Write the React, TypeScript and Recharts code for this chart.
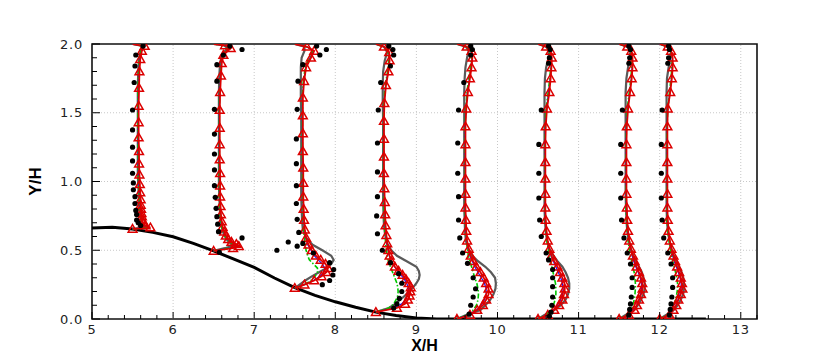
import React from 'react';
import { ScatterChart, Scatter, XAxis, YAxis, ReferenceLine, ReferenceArea } from 'recharts';

// ---- axes ----
const xMajorTicks = [5, 6, 7, 8, 9, 10, 11, 12, 13];
const xAllTicks = Array.from({ length: 42 }, (_, i) => +(5 + i * 0.2).toFixed(1)).filter((v) => v <= 13.2);
const yMajorTicks = [0, 0.5, 1, 1.5, 2];
const yAllTicks = Array.from({ length: 21 }, (_, i) => +(i * 0.1).toFixed(1));
const xGrid = [6, 7, 8, 9, 10, 11, 12, 13];
const yGrid = [0.5, 1, 1.5];

// ---- hill surface ----
const hillX = [5.0, 5.25, 5.5, 5.75, 6.0, 6.25, 6.5, 6.75, 7.0, 7.25, 7.5, 7.75, 8.0, 8.25, 8.5, 8.75, 9.0, 9.25, 9.5, 12.57];
const hillY = [0.662, 0.667, 0.655, 0.63, 0.598, 0.55, 0.495, 0.435, 0.375, 0.298, 0.228, 0.172, 0.125, 0.085, 0.05, 0.025, 0.008, 0.0, 0.0, 0.0];

// ---- station X/H = 5.5 ----
const y1 = [0.655, 0.665, 0.68, 0.7, 0.72, 0.745, 0.77, 0.8, 0.83, 0.87, 0.92, 0.98, 1.05, 1.13, 1.22, 1.32, 1.43, 1.55, 1.68, 1.8, 1.89, 1.95, 1.985, 2.0];
const red1 = [5.5, 5.72, 5.66, 5.63, 5.62, 5.615, 5.61, 5.605, 5.6, 5.6, 5.595, 5.59, 5.585, 5.58, 5.58, 5.575, 5.575, 5.575, 5.58, 5.585, 5.595, 5.615, 5.65, 5.5];
const blue1 = [5.5, 5.68, 5.64, 5.62, 5.61, 5.605, 5.6, 5.595, 5.59, 5.59, 5.585, 5.58, 5.575, 5.57, 5.57, 5.57, 5.57, 5.57, 5.575, 5.58, 5.59, 5.61, 5.64, 5.5];
const green1 = [5.5, 5.67, 5.635, 5.615, 5.605, 5.6, 5.595, 5.59, 5.585, 5.585, 5.58, 5.575, 5.57, 5.57, 5.57, 5.565, 5.565, 5.565, 5.57, 5.575, 5.585, 5.605, 5.635, 5.5];
const gray1 = [5.5, 5.66, 5.63, 5.61, 5.6, 5.595, 5.59, 5.585, 5.58, 5.58, 5.575, 5.57, 5.565, 5.565, 5.565, 5.565, 5.565, 5.565, 5.565, 5.57, 5.58, 5.6, 5.63, 5.5];
const exp1X = [5.63, 5.54, 5.53, 5.52, 5.5, 5.5, 5.5, 5.5, 5.5, 5.51, 5.51, 5.53, 5.53, 5.54, 5.55, 5.55, 5.57, 5.6];
const exp1Y = [1.985, 1.92, 1.84, 1.72, 1.52, 1.375, 1.25, 1.15, 1.06, 0.99, 0.94, 0.89, 0.84, 0.79, 0.76, 0.72, 0.7, 0.68];

// ---- station X/H = 6.5 ----
const y2 = [0.495, 0.515, 0.53, 0.545, 0.56, 0.58, 0.605, 0.635, 0.67, 0.71, 0.76, 0.82, 0.89, 0.97, 1.06, 1.16, 1.27, 1.39, 1.52, 1.65, 1.77, 1.86, 1.92, 1.97, 1.99, 2.0];
const red2 = [6.5, 6.74, 6.81, 6.78, 6.72, 6.68, 6.65, 6.63, 6.61, 6.6, 6.59, 6.585, 6.58, 6.58, 6.58, 6.575, 6.575, 6.575, 6.575, 6.58, 6.59, 6.6, 6.62, 6.71, 6.64, 6.5];
const blue2 = [6.5, 6.7, 6.77, 6.76, 6.71, 6.67, 6.645, 6.625, 6.605, 6.595, 6.585, 6.58, 6.575, 6.575, 6.575, 6.57, 6.57, 6.57, 6.57, 6.575, 6.585, 6.595, 6.615, 6.7, 6.64, 6.5];
const green2 = [6.5, 6.68, 6.75, 6.74, 6.7, 6.66, 6.64, 6.62, 6.6, 6.59, 6.58, 6.575, 6.57, 6.57, 6.57, 6.57, 6.57, 6.57, 6.57, 6.575, 6.585, 6.595, 6.615, 6.69, 6.63, 6.5];
const gray2 = [6.5, 6.64, 6.72, 6.72, 6.69, 6.66, 6.635, 6.615, 6.6, 6.59, 6.58, 6.575, 6.57, 6.565, 6.565, 6.565, 6.565, 6.565, 6.565, 6.565, 6.57, 6.58, 6.6, 6.67, 6.63, 6.5];
const exp2X = [6.7, 6.85, 6.62, 6.54, 6.54, 6.51, 6.51, 6.51, 6.51, 6.51, 6.52, 6.53, 6.54, 6.55, 6.56, 6.85, 6.57];
const exp2Y = [1.985, 1.96, 1.92, 1.85, 1.73, 1.525, 1.345, 1.2, 1.084, 0.97, 0.885, 0.805, 0.744, 0.69, 0.635, 0.59, 0.485];

// ---- station X/H = 7.5 ----
const y3 = [0.225, 0.25, 0.28, 0.31, 0.34, 0.37, 0.4, 0.43, 0.46, 0.5, 0.54, 0.59, 0.65, 0.72, 0.8, 0.89, 0.99, 1.1, 1.22, 1.35, 1.48, 1.61, 1.73, 1.83, 1.9, 1.95, 1.98, 2.0];
const red3 = [7.5, 7.62, 7.74, 7.83, 7.89, 7.91, 7.88, 7.82, 7.76, 7.71, 7.67, 7.64, 7.625, 7.615, 7.61, 7.605, 7.605, 7.605, 7.6, 7.6, 7.6, 7.6, 7.615, 7.64, 7.7, 7.74, 7.65, 7.5];
const blue3 = [7.5, 7.62, 7.73, 7.81, 7.86, 7.87, 7.84, 7.79, 7.74, 7.7, 7.66, 7.635, 7.62, 7.61, 7.605, 7.6, 7.6, 7.6, 7.595, 7.595, 7.595, 7.595, 7.61, 7.635, 7.69, 7.73, 7.65, 7.5];
const green3 = [7.5, 7.62, 7.7, 7.75, 7.78, 7.78, 7.73, 7.68, 7.66, 7.64, 7.63, 7.62, 7.61, 7.605, 7.6, 7.6, 7.6, 7.595, 7.595, 7.595, 7.595, 7.595, 7.605, 7.63, 7.68, 7.72, 7.65, 7.5];
const gray3 = [7.5, 7.56, 7.63, 7.71, 7.8, 7.89, 7.95, 7.98, 7.95, 7.84, 7.72, 7.64, 7.6, 7.59, 7.585, 7.58, 7.58, 7.58, 7.58, 7.58, 7.58, 7.575, 7.575, 7.575, 7.585, 7.62, 7.62, 7.5];
const exp3X = [7.77, 7.89, 7.81, 7.6, 7.54, 7.53, 7.52, 7.52, 7.52, 7.52, 7.53, 7.55, 7.42, 7.28, 7.53, 7.6, 7.73, 7.93, 7.98, 7.97, 7.93, 7.84];
const exp3Y = [1.985, 1.96, 1.92, 1.85, 1.73, 1.525, 1.31, 1.13, 0.97, 0.84, 0.725, 0.63, 0.56, 0.5, 0.53, 0.55, 0.48, 0.41, 0.36, 0.32, 0.28, 0.25];

// ---- station X/H = 8.5 ----
const y4 = [0.05, 0.08, 0.11, 0.14, 0.17, 0.2, 0.23, 0.26, 0.29, 0.32, 0.35, 0.38, 0.42, 0.46, 0.5, 0.55, 0.61, 0.68, 0.76, 0.85, 0.95, 1.06, 1.18, 1.31, 1.44, 1.57, 1.7, 1.8, 1.88, 1.94, 1.98, 2.0];
const red4 = [8.5, 8.76, 8.86, 8.895, 8.915, 8.925, 8.93, 8.905, 8.87, 8.83, 8.78, 8.735, 8.69, 8.67, 8.655, 8.64, 8.63, 8.62, 8.615, 8.61, 8.605, 8.6, 8.6, 8.6, 8.6, 8.605, 8.625, 8.655, 8.67, 8.665, 8.6, 8.5];
const blue4 = [8.5, 8.72, 8.82, 8.865, 8.89, 8.9, 8.9, 8.88, 8.85, 8.81, 8.77, 8.73, 8.69, 8.665, 8.65, 8.635, 8.625, 8.615, 8.61, 8.605, 8.6, 8.595, 8.595, 8.595, 8.595, 8.6, 8.62, 8.65, 8.665, 8.66, 8.6, 8.5];
const green4 = [8.5, 8.66, 8.72, 8.75, 8.77, 8.775, 8.77, 8.76, 8.74, 8.72, 8.7, 8.68, 8.655, 8.64, 8.63, 8.62, 8.615, 8.61, 8.605, 8.6, 8.6, 8.595, 8.595, 8.595, 8.595, 8.6, 8.615, 8.645, 8.66, 8.655, 8.6, 8.5];
const gray4 = [8.5, 8.66, 8.74, 8.8, 8.86, 8.91, 8.96, 9.0, 9.03, 9.04, 9.03, 9.0, 8.88, 8.76, 8.69, 8.64, 8.615, 8.6, 8.595, 8.59, 8.59, 8.59, 8.59, 8.59, 8.59, 8.585, 8.585, 8.59, 8.61, 8.64, 8.6, 8.5];
const exp4X = [8.66, 8.71, 8.72, 8.68, 8.56, 8.53, 8.52, 8.52, 8.52, 8.51, 8.52, 8.58, 8.68, 8.78, 8.82, 8.82, 8.79, 8.76, 8.72];
const exp4Y = [1.985, 1.96, 1.92, 1.84, 1.72, 1.52, 1.28, 1.07, 0.89, 0.75, 0.62, 0.5, 0.41, 0.33, 0.26, 0.2, 0.15, 0.11, 0.08];

// ---- stations X/H = 9.5, 10.5, 11.5, 12 (flat wall) ----
const yFlat = [0.0, 0.03, 0.065, 0.1, 0.14, 0.18, 0.22, 0.26, 0.3, 0.34, 0.38, 0.42, 0.46, 0.51, 0.57, 0.64, 0.72, 0.81, 0.91, 1.02, 1.14, 1.27, 1.4, 1.53, 1.65, 1.75, 1.83, 1.9, 1.95, 1.98, 2.0];

const red5 = [9.5, 9.66, 9.75, 9.82, 9.86, 9.89, 9.89, 9.86, 9.83, 9.79, 9.74, 9.7, 9.67, 9.645, 9.625, 9.615, 9.61, 9.605, 9.605, 9.605, 9.605, 9.605, 9.605, 9.615, 9.635, 9.66, 9.68, 9.69, 9.68, 9.62, 9.5];
const blue5 = [9.5, 9.64, 9.74, 9.8, 9.84, 9.86, 9.86, 9.84, 9.8, 9.76, 9.72, 9.69, 9.66, 9.64, 9.62, 9.61, 9.605, 9.6, 9.6, 9.6, 9.6, 9.6, 9.6, 9.61, 9.63, 9.655, 9.675, 9.685, 9.675, 9.62, 9.5];
const green5 = [9.5, 9.62, 9.7, 9.74, 9.76, 9.765, 9.76, 9.745, 9.72, 9.7, 9.68, 9.66, 9.64, 9.63, 9.62, 9.61, 9.605, 9.6, 9.6, 9.6, 9.6, 9.6, 9.6, 9.61, 9.625, 9.645, 9.665, 9.68, 9.67, 9.62, 9.5];
const gray5 = [9.5, 9.62, 9.79, 9.85, 9.91, 9.95, 9.975, 9.98, 9.97, 9.92, 9.85, 9.76, 9.69, 9.64, 9.61, 9.6, 9.595, 9.59, 9.59, 9.59, 9.59, 9.59, 9.59, 9.59, 9.59, 9.595, 9.605, 9.625, 9.645, 9.61, 9.5];
const exp5X = [9.67, 9.69, 9.67, 9.585, 9.52, 9.51, 9.51, 9.52, 9.52, 9.535, 9.57, 9.63, 9.7, 9.73, 9.7, 9.67, 9.65];
const exp5Y = [1.985, 1.96, 1.92, 1.72, 1.52, 1.28, 1.06, 0.89, 0.72, 0.59, 0.48, 0.405, 0.3, 0.22, 0.16, 0.1, 0.035];

const red6 = [10.5, 10.62, 10.7, 10.76, 10.8, 10.82, 10.83, 10.825, 10.8, 10.77, 10.74, 10.7, 10.665, 10.64, 10.62, 10.605, 10.595, 10.59, 10.59, 10.59, 10.59, 10.59, 10.595, 10.61, 10.64, 10.655, 10.665, 10.67, 10.655, 10.6, 10.5];
const blue6 = [10.5, 10.62, 10.69, 10.74, 10.78, 10.8, 10.81, 10.8, 10.78, 10.75, 10.72, 10.69, 10.66, 10.635, 10.615, 10.6, 10.59, 10.585, 10.585, 10.585, 10.585, 10.585, 10.59, 10.605, 10.63, 10.65, 10.66, 10.665, 10.65, 10.6, 10.5];
const green6 = [10.5, 10.6, 10.66, 10.69, 10.71, 10.72, 10.72, 10.715, 10.7, 10.685, 10.67, 10.655, 10.64, 10.625, 10.61, 10.6, 10.59, 10.585, 10.585, 10.585, 10.585, 10.585, 10.59, 10.6, 10.625, 10.645, 10.655, 10.66, 10.645, 10.6, 10.5];
const gray6 = [10.5, 10.58, 10.7, 10.78, 10.84, 10.87, 10.885, 10.885, 10.87, 10.84, 10.8, 10.74, 10.69, 10.64, 10.61, 10.595, 10.585, 10.58, 10.58, 10.58, 10.58, 10.58, 10.58, 10.58, 10.58, 10.585, 10.6, 10.63, 10.64, 10.6, 10.5];
const exp6X = [10.63, 10.65, 10.64, 10.63, 10.54, 10.51, 10.51, 10.51, 10.52, 10.54, 10.6, 10.63, 10.68, 10.68, 10.68, 10.68, 10.67, 10.66, 10.64];
const exp6Y = [1.985, 1.96, 1.9, 1.86, 1.52, 1.27, 1.06, 0.88, 0.72, 0.6, 0.48, 0.43, 0.36, 0.3, 0.235, 0.16, 0.1, 0.05, 0.02];

const red7 = [11.5, 11.62, 11.69, 11.72, 11.745, 11.77, 11.79, 11.785, 11.77, 11.745, 11.715, 11.69, 11.67, 11.645, 11.625, 11.61, 11.6, 11.595, 11.59, 11.59, 11.59, 11.59, 11.595, 11.61, 11.635, 11.655, 11.665, 11.665, 11.65, 11.6, 11.5];
const blue7 = [11.5, 11.62, 11.68, 11.72, 11.745, 11.765, 11.775, 11.775, 11.76, 11.735, 11.705, 11.68, 11.66, 11.64, 11.62, 11.605, 11.595, 11.59, 11.585, 11.585, 11.585, 11.585, 11.59, 11.605, 11.63, 11.65, 11.66, 11.66, 11.645, 11.6, 11.5];
const green7 = [11.5, 11.6, 11.65, 11.67, 11.685, 11.695, 11.7, 11.7, 11.695, 11.685, 11.67, 11.655, 11.64, 11.625, 11.61, 11.6, 11.59, 11.585, 11.585, 11.585, 11.585, 11.585, 11.59, 11.6, 11.625, 11.645, 11.655, 11.66, 11.645, 11.6, 11.5];
const gray7 = [11.5, 11.58, 11.68, 11.73, 11.77, 11.8, 11.815, 11.815, 11.8, 11.78, 11.745, 11.71, 11.675, 11.645, 11.62, 11.6, 11.59, 11.585, 11.58, 11.58, 11.58, 11.58, 11.58, 11.58, 11.58, 11.59, 11.61, 11.63, 11.64, 11.6, 11.5];
const exp7X = [11.62, 11.64, 11.63, 11.62, 11.54, 11.52, 11.52, 11.52, 11.53, 11.56, 11.6, 11.64, 11.66, 11.66, 11.65, 11.64, 11.63, 11.62];
const exp7Y = [1.985, 1.96, 1.9, 1.86, 1.52, 1.27, 1.06, 0.88, 0.72, 0.59, 0.48, 0.4, 0.3, 0.23, 0.16, 0.11, 0.07, 0.03];

const red8 = [12.0, 12.12, 12.17, 12.205, 12.23, 12.26, 12.28, 12.275, 12.26, 12.24, 12.215, 12.19, 12.17, 12.145, 12.125, 12.11, 12.1, 12.095, 12.095, 12.095, 12.095, 12.095, 12.095, 12.1, 12.13, 12.15, 12.16, 12.16, 12.14, 12.1, 12.0];
const blue8 = [12.0, 12.12, 12.17, 12.2, 12.225, 12.25, 12.265, 12.265, 12.25, 12.23, 12.205, 12.18, 12.16, 12.14, 12.12, 12.105, 12.095, 12.09, 12.09, 12.09, 12.09, 12.09, 12.09, 12.1, 12.125, 12.145, 12.155, 12.155, 12.135, 12.1, 12.0];
const green8 = [12.0, 12.1, 12.15, 12.175, 12.195, 12.21, 12.22, 12.22, 12.21, 12.195, 12.18, 12.16, 12.145, 12.13, 12.115, 12.1, 12.09, 12.09, 12.09, 12.09, 12.09, 12.09, 12.09, 12.1, 12.12, 12.14, 12.15, 12.155, 12.135, 12.1, 12.0];
const gray8 = [12.0, 12.08, 12.17, 12.22, 12.26, 12.29, 12.3, 12.3, 12.29, 12.27, 12.24, 12.21, 12.175, 12.145, 12.12, 12.1, 12.09, 12.085, 12.085, 12.085, 12.085, 12.085, 12.085, 12.085, 12.085, 12.09, 12.11, 12.13, 12.14, 12.1, 12.0];
const exp8X = [12.11, 12.12, 12.11, 12.1, 12.03, 12.02, 12.02, 12.02, 12.03, 12.05, 12.1, 12.14, 12.16, 12.16, 12.15, 12.14, 12.13, 12.12];
const exp8Y = [1.985, 1.96, 1.9, 1.86, 1.52, 1.27, 1.06, 0.88, 0.72, 0.59, 0.48, 0.4, 0.3, 0.23, 0.16, 0.11, 0.07, 0.03];

const zip = (xs: number[], ys: number[]) => xs.map((x, i) => ({ x, y: ys[i] }));

const stations = [
  { y: y1, red: red1, blue: blue1, green: green1, gray: gray1, ex: exp1X, ey: exp1Y },
  { y: y2, red: red2, blue: blue2, green: green2, gray: gray2, ex: exp2X, ey: exp2Y },
  { y: y3, red: red3, blue: blue3, green: green3, gray: gray3, ex: exp3X, ey: exp3Y },
  { y: y4, red: red4, blue: blue4, green: green4, gray: gray4, ex: exp4X, ey: exp4Y },
  { y: yFlat, red: red5, blue: blue5, green: green5, gray: gray5, ex: exp5X, ey: exp5Y },
  { y: yFlat, red: red6, blue: blue6, green: green6, gray: gray6, ex: exp6X, ey: exp6Y },
  { y: yFlat, red: red7, blue: blue7, green: green7, gray: gray7, ex: exp7X, ey: exp7Y },
  { y: yFlat, red: red8, blue: blue8, green: green8, gray: gray8, ex: exp8X, ey: exp8Y },
];

const RED = '#dc0000';
const tickFont = { fontFamily: 'DejaVu Sans', fontSize: 13, fill: '#222', letterSpacing: 0.8 };

const NoShape = () => <g />;
const Dot = (p: any) => <circle cx={p.cx} cy={p.cy} r={2.6} fill="#000" />;
const Tri = (p: any) => {
  const { cx, cy } = p;
  const s = 4.4;
  return (
    <path
      d={`M${cx},${cy - s} L${cx + s},${cy + s * 0.75} L${cx - s},${cy + s * 0.75} Z`}
      fill="none"
      stroke={RED}
      strokeWidth={1.5}
    />
  );
};

const XTick = (props: any) => {
  const { x, y, payload } = props;
  const v = payload.value;
  const major = xMajorTicks.includes(v);
  return (
    <g>
      <line x1={x} y1={y} x2={x} y2={y - (major ? 7 : 4)} stroke="#000" strokeWidth={1} />
      {major && (
        <text x={x} y={y + 6} dy="0.71em" textAnchor="middle" {...tickFont}>
          {String(v)}
        </text>
      )}
    </g>
  );
};

const YTick = (props: any) => {
  const { x, y, payload } = props;
  const v = payload.value;
  const major = yMajorTicks.includes(v);
  return (
    <g>
      <line x1={x} y1={y} x2={x + (major ? 8 : 5)} y2={y} stroke="#000" strokeWidth={1} />
      {major && (
        <text x={x - 9} y={y} dy="0.355em" textAnchor="end" {...tickFont}>
          {v.toFixed(1)}
        </text>
      )}
    </g>
  );
};

const XLabel = (props: any) => {
  const vb = props.viewBox || { x: 92, y: 319, width: 665, height: 30 };
  return (
    <text x={vb.x + vb.width / 2} y={vb.y + 32} textAnchor="middle" fontFamily="Liberation Sans" fontWeight="bold" fontSize={16} fill="#000">
      X/H
    </text>
  );
};

const YLabel = (props: any) => {
  const vb = props.viewBox || { x: 32, y: 44, width: 60, height: 275 };
  const x = vb.x + 9;
  const y = vb.y + vb.height / 2;
  return (
    <text x={x} y={y} transform={`rotate(-90 ${x} ${y})`} textAnchor="middle" fontFamily="Liberation Sans" fontWeight="bold" fontSize={17} fill="#000">
      Y/H
    </text>
  );
};

export default function App() {
  return (
    <div style={{ position: 'absolute', left: 0, top: 0, background: '#fff' }}>
      <ScatterChart width={830} height={360} margin={{ top: 44, right: 73, bottom: 11, left: 32 }}>
        <XAxis
          type="number"
          dataKey="x"
          domain={[5, 13.2]}
          allowDataOverflow
          ticks={xAllTicks}
          interval={0}
          tick={(p: any) => <XTick {...p} />}
          tickLine={false}
          axisLine={false}
          tickSize={0}
          tickMargin={0}
          height={30}
          label={<XLabel />}
        />
        <YAxis
          type="number"
          dataKey="y"
          domain={[0, 2]}
          allowDataOverflow
          ticks={yAllTicks}
          interval={0}
          tick={(p: any) => <YTick {...p} />}
          tickLine={false}
          axisLine={false}
          tickSize={0}
          tickMargin={0}
          width={60}
          label={<YLabel />}
        />
        {xGrid.map((v) => (
          <ReferenceLine key={`gx${v}`} x={v} stroke="#c8c8c8" strokeDasharray="1 2" strokeWidth={1} />
        ))}
        {yGrid.map((v) => (
          <ReferenceLine key={`gy${v}`} y={v} stroke="#c8c8c8" strokeDasharray="1 2" strokeWidth={1} />
        ))}
        <ReferenceArea x1={5} x2={13.2} y1={0} y2={2} fill="none" fillOpacity={0} stroke="#111" strokeWidth={1.6} />

        <Scatter
          data={zip(hillX, hillY)}
          shape={NoShape}
          line={{ stroke: '#000', strokeWidth: 3 }}
          isAnimationActive={false}
        />
        {stations.map((s, i) => (
          <Scatter
            key={`gray${i}`}
            data={zip(s.gray, s.y)}
            shape={NoShape}
            line={{ stroke: '#5a5a5a', strokeWidth: 2.2 }}
            isAnimationActive={false}
          />
        ))}
        {stations.map((s, i) => (
          <Scatter
            key={`blue${i}`}
            data={zip(s.blue, s.y)}
            shape={NoShape}
            line={{ stroke: '#1010ff', strokeWidth: 1.2 }}
            isAnimationActive={false}
          />
        ))}
        {stations.map((s, i) => (
          <Scatter
            key={`green${i}`}
            data={zip(s.green, s.y)}
            shape={NoShape}
            line={{ stroke: '#00c800', strokeWidth: 1.6, strokeDasharray: '5 2 1.5 2' }}
            isAnimationActive={false}
          />
        ))}
        {stations.map((s, i) => (
          <Scatter
            key={`red${i}`}
            data={zip(s.red, s.y)}
            shape={NoShape}
            line={{ stroke: RED, strokeWidth: 1.8 }}
            isAnimationActive={false}
          />
        ))}
        {stations.map((s, i) => (
          <Scatter
            key={`tri${i}`}
            data={zip(s.red, s.y).slice(0, -1)}
            shape={Tri}
            isAnimationActive={false}
          />
        ))}
        {stations.map((s, i) => (
          <Scatter
            key={`exp${i}`}
            data={zip(s.ex, s.ey)}
            shape={Dot}
            isAnimationActive={false}
          />
        ))}
      </ScatterChart>
    </div>
  );
}
